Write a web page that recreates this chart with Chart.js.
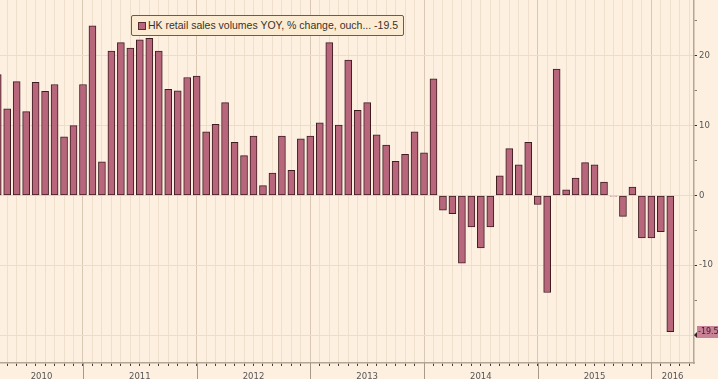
<!DOCTYPE html>
<html>
<head>
<meta charset="utf-8">
<script src="https://cdn.jsdelivr.net/npm/chart.js@4.4.1/dist/chart.umd.min.js"></script>
<style>
  html, body { margin: 0; padding: 0; background: #fdf0e1; overflow: hidden; }
  #wrap { position: relative; width: 718px; height: 379px; }
  #legend {
    position: absolute; left: 131px; top: 15px; width: 265px; height: 19px;
    background: #fcebd3; border: 1px solid #6e5c43; border-radius: 2px;
    font: 10.5px "Liberation Sans", sans-serif; color: #3a3128;
    line-height: 19px; white-space: nowrap; padding-left: 6px; box-sizing: content-box;
  }
  #legend .sw {
    display: inline-block; width: 8px; height: 8px; background: #b8667c;
    border: 1px solid #5a2a34; vertical-align: -1px; margin-right: 2px; box-sizing: border-box;
  }
</style>
</head>
<body>
<div id="wrap">
  <canvas id="chart" width="718" height="379"></canvas>
  <div id="legend"><span class="sw"></span>HK retail sales volumes YOY, % change, ouch... -19.5</div>
</div>
<script>
// Bulan (data bulanan, diplot di akhir bulan)
const years  = ['2010', '2011', '2012', '2013', '2014', '2015', '2016'];
const months = [
  'Mar 2010','Apr 2010','May 2010','Jun 2010','Jul 2010','Aug 2010','Sep 2010','Oct 2010','Nov 2010','Dec 2010',
  'Jan 2011','Feb 2011','Mar 2011','Apr 2011','May 2011','Jun 2011','Jul 2011','Aug 2011','Sep 2011','Oct 2011','Nov 2011','Dec 2011',
  'Jan 2012','Feb 2012','Mar 2012','Apr 2012','May 2012','Jun 2012','Jul 2012','Aug 2012','Sep 2012','Oct 2012','Nov 2012','Dec 2012',
  'Jan 2013','Feb 2013','Mar 2013','Apr 2013','May 2013','Jun 2013','Jul 2013','Aug 2013','Sep 2013','Oct 2013','Nov 2013','Dec 2013',
  'Jan 2014','Feb 2014','Mar 2014','Apr 2014','May 2014','Jun 2014','Jul 2014','Aug 2014','Sep 2014','Oct 2014','Nov 2014','Dec 2014',
  'Jan 2015','Feb 2015','Mar 2015','Apr 2015','May 2015','Jun 2015','Jul 2015','Aug 2015','Sep 2015','Oct 2015','Nov 2015','Dec 2015',
  'Jan 2016','Feb 2016'
];
// Volume penjualan ritel HK, % YoY
const salesYoY = [
  17.3, 12.4, 16.3, 12.0, 16.2, 14.9, 15.9, 8.4, 10.0, 15.9,
  24.3, 4.8, 20.7, 21.9, 21.1, 22.3, 22.5, 20.7, 15.2, 15.0, 16.9, 17.1,
  9.1, 10.2, 13.3, 7.6, 5.7, 8.5, 1.4, 3.2, 8.5, 3.6, 8.1, 8.5,
  10.4, 21.9, 10.1, 19.4, 12.2, 13.3, 8.7, 7.2, 4.9, 5.9, 9.1, 6.1,
  16.7, -2.1, -2.6, -9.7, -4.5, -7.5, -4.5, 2.8, 6.7, 4.4, 7.6, -1.3,
  -13.9, 18.1, 0.8, 2.5, 4.7, 4.4, 1.9, -0.1, -3.0, 1.2, -6.1, -6.1,
  -5.2, -19.5
];
const yTicks = [-20, -15, -10, -5, 0, 5, 10, 15, 20, 25];

// Posisi x = jumlah bulan sejak akhir Des 2010
const X_MIN = -8.76, X_MAX = 64.5;
const monthNames = ['Jan','Feb','Mar','Apr','May','Jun','Jul','Aug','Sep','Oct','Nov','Dec'];
function monthPos(label) {
  const [mon, yr] = label.split(' ');
  return (Number(yr) - 2011) * 12 + monthNames.indexOf(mon) + 1;
}
const points = months.map((m, i) => ({ x: monthPos(m), y: salesYoY[i] }));

// Label tahun di tengah bagian tahun yang terlihat
const yearLabelPos = years.map(y => {
  const a = Math.max((Number(y) - 2011) * 12, X_MIN);
  const b = Math.min((Number(y) - 2010) * 12, X_MAX);
  return (a + b) / 2;
});

// Garis pemisah tahun diperpanjang ke bawah + label nilai terakhir
const extras = {
  id: 'extras',
  afterDraw(chart) {
    const { ctx, chartArea, scales: { x, y } } = chart;
    ctx.save();
    ctx.strokeStyle = '#a89a86';
    ctx.lineWidth = 1;
    for (let m = 0; m <= X_MAX; m += 12) {
      const px = Math.round(x.getPixelForValue(m)) + 0.5;
      ctx.beginPath();
      ctx.moveTo(px, chartArea.bottom);
      ctx.lineTo(px, chart.height);
      ctx.stroke();
    }
    const last = salesYoY[salesYoY.length - 1];
    const py = Math.round(y.getPixelForValue(last));
    ctx.fillStyle = '#c98198';
    ctx.fillRect(chartArea.right + 3, py - 6, 22, 12);
    ctx.fillStyle = '#3a1e22';
    ctx.beginPath();
    ctx.moveTo(chartArea.right, py + 3);
    ctx.lineTo(chartArea.right + 3, py);
    ctx.lineTo(chartArea.right + 3, py + 6);
    ctx.fill();
    ctx.font = '8px "DejaVu Sans", sans-serif';
    ctx.textBaseline = 'middle';
    ctx.fillText(last.toFixed(1), chartArea.right + 4, py);
    ctx.restore();
  }
};

new Chart(document.getElementById('chart'), {
  type: 'bar',
  data: {
    datasets: [{
      data: points,
      backgroundColor: '#b8667c',
      borderColor: '#3e1c20',
      borderWidth: 1,
      borderSkipped: false,
      barThickness: 7
    }]
  },
  options: {
    responsive: false,
    animation: false,
    layout: { padding: 0 },
    plugins: { legend: { display: false }, tooltip: { enabled: false } },
    scales: {
      x: {
        type: 'linear',
        min: X_MIN, max: X_MAX,
        offset: false,
        border: { color: '#b3a692', width: 1.5 },
        afterBuildTicks: (scale) => {
          const t = [];
          for (let m = -8; m <= 64; m++) t.push({ value: m });
          yearLabelPos.forEach(v => { if (!Number.isInteger(v)) t.push({ value: v }); });
          t.sort((a, b) => a.value - b.value);
          scale.ticks = t;
        },
        afterFit: (scale) => {
          scale.height = 16;
          scale.paddingLeft = 0;
          scale.paddingRight = 0;
        },
        grid: {
          offset: false,
          color: (c) => {
            const v = c.tick && c.tick.value;
            if (!Number.isInteger(v)) return 'rgba(0,0,0,0)';
            return v % 12 === 0 ? '#d9c9b3' : '#efe0cc';
          },
          tickColor: (c) => Number.isInteger(c.tick && c.tick.value) ? '#4a3f36' : 'rgba(0,0,0,0)',
          tickLength: 3
        },
        ticks: {
          autoSkip: false,
          maxRotation: 0,
          padding: 6,
          color: '#555',
          font: { family: 'DejaVu Sans', size: 8.5 },
          callback: (v) => {
            const i = yearLabelPos.findIndex(p => Math.abs(p - v) < 1e-6);
            return i >= 0 ? years[i] : '';
          }
        }
      },
      y: {
        type: 'linear',
        position: 'right',
        min: -24, max: 28,
        border: { color: '#b3a692', width: 1.5 },
        afterBuildTicks: (scale) => { scale.ticks = yTicks.map(v => ({ value: v })); },
        afterFit: (scale) => {
          scale.width = 24;
          scale.paddingTop = 0;
          scale.paddingBottom = 0;
        },
        grid: {
          color: (c) => (c.tick && c.tick.value % 10 === 0) ? '#ecdcc8' : 'rgba(0,0,0,0)',
          tickColor: (c) => (c.tick && c.tick.value % 10 === 0) ? '#3a3028' : '#8a7d6e',
          tickLength: 3
        },
        ticks: {
          padding: 2,
          color: '#555',
          font: { family: 'DejaVu Sans', size: 8.5 },
          callback: (v) => (v % 10 === 0 && v > -20) ? String(v) : ''
        }
      }
    }
  },
  plugins: [extras]
});
</script>
</body>
</html>
